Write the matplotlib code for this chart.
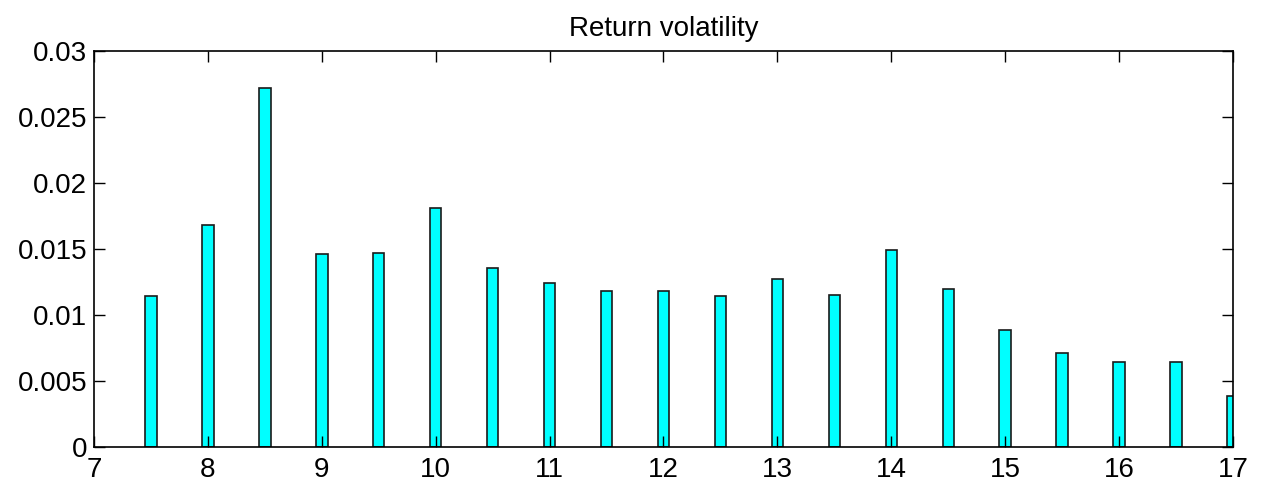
import matplotlib
matplotlib.use("Agg")
import matplotlib.pyplot as plt
import numpy as np

plt.rcParams['font.family'] = ['Liberation Sans', 'DejaVu Sans']

# bar positions and heights
positions = [7.5, 8, 8.5, 9, 9.5, 10, 10.5, 11, 11.5, 12, 12.5,
             13, 13.5, 14, 14.5, 15, 15.5, 16, 16.5, 17]
volatility = [0.01144, 0.01682, 0.02720, 0.01462, 0.01470, 0.01811,
              0.01354, 0.01245, 0.01182, 0.01184, 0.01146, 0.01275,
              0.01154, 0.01492, 0.01195, 0.00886, 0.00714, 0.00646,
              0.00644, 0.00389]
xticks = [7, 8, 9, 10, 11, 12, 13, 14, 15, 16, 17]
yticks = [0, 0.005, 0.01, 0.015, 0.02, 0.025, 0.03]
ytick_labels = ['0', '0.005', '0.01', '0.015', '0.02', '0.025', '0.03']

fig = plt.figure(figsize=(12.62, 4.88), dpi=100)
ax = fig.add_axes([0.0745, 0.084, 0.9025, 0.8115])

ax.bar(positions, volatility, width=0.1, color='#00ffff',
       edgecolor='#1a1a1a', linewidth=1.2)

ax.set_xlim(7, 17)
ax.set_ylim(0, 0.03)
ax.set_xticks(xticks)
ax.set_xticklabels([str(t) for t in xticks])
ax.set_yticks(yticks)
ax.set_yticklabels(ytick_labels)
ax.tick_params(direction='in', length=8, width=1, labelsize=20,
               top=True, right=True)
ax.tick_params(axis='x', pad=7)
ax.tick_params(axis='y', pad=5)
for s in ax.spines.values():
    s.set_linewidth(1.2)

ax.set_title('Return volatility', fontsize=20, pad=11)

fig.savefig('out.png', dpi=100)
